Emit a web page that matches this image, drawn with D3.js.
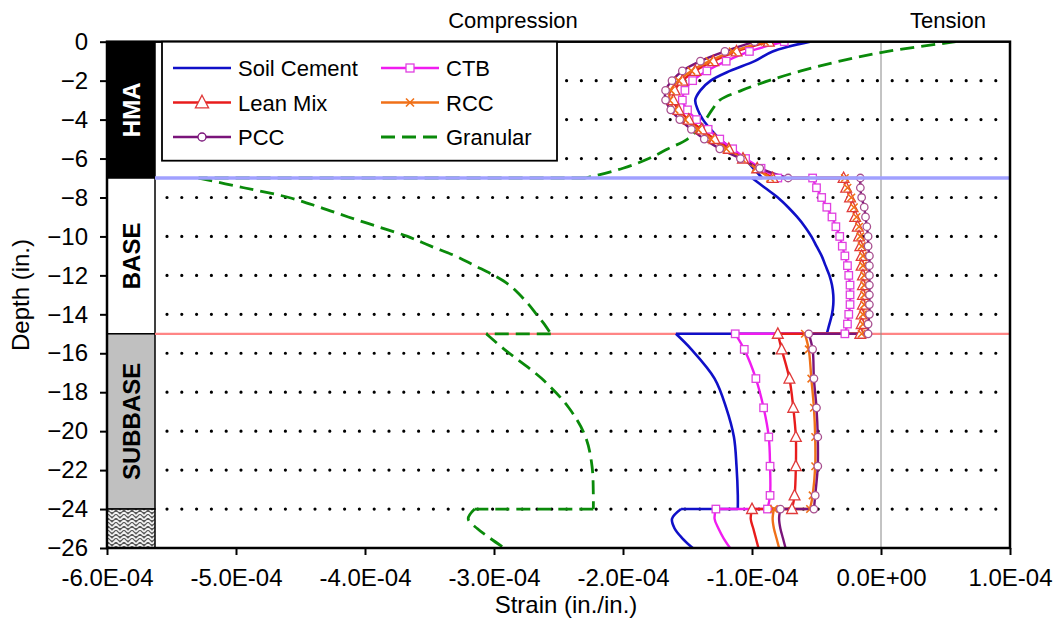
<!DOCTYPE html>
<html>
<head>
<meta charset="utf-8">
<script src="https://cdn.jsdelivr.net/npm/d3@7"></script>
<style>
  body { margin: 0; background: #fff; }
  svg text { font-family: "Liberation Sans", Arial, sans-serif; fill: #000; }
</style>
</head>
<body>
<svg id="chart" width="1055" height="636"></svg>
<script>
// Depth grid (in.), one block per pavement layer; a repeated depth marks a layer interface.
const depthHMA   = [0, -0.5, -1, -1.5, -2, -2.5, -3, -3.5, -4, -4.5, -5, -5.5, -6, -6.5, -7];
const depthBase  = [-7, -7.5, -8, -8.5, -9, -9.5, -10, -10.5, -11, -11.5, -12, -12.5, -13, -13.5, -14, -14.5, -15];
const depthSub   = [-15, -15.8, -17.3, -18.8, -20.3, -21.8, -23.3, -24];
const depthLower = [-24, -24.5, -25, -25.5, -26];
const depths = [...depthHMA, ...depthBase, ...depthSub, ...depthLower];

// Horizontal strain, in units of 1E-04 in./in. (HMA | base | subbase | subgrade)
const soilCement = [
  -0.55, -0.84, -0.98, -1.17, -1.32, -1.40, -1.44, -1.42, -1.38, -1.32, -1.25, -1.16, -1.06, -0.99, -0.92,
  -1.00, -0.90, -0.80, -0.72, -0.65, -0.59, -0.54, -0.50, -0.46, -0.43, -0.40, -0.38, -0.37, -0.37, -0.38, -0.40, -0.42,
  -1.59, -1.47, -1.29, -1.20, -1.14, -1.12, -1.11, -1.11,
  -1.55, -1.62, -1.60, -1.54, -1.46
];
const ctb = [
  -0.75, -1.02, -1.20, -1.35, -1.46, -1.52, -1.54, -1.50, -1.43, -1.34, -1.25, -1.15, -1.05, -0.93, -0.80,
  -0.53, -0.50, -0.46, -0.42, -0.38, -0.35, -0.32, -0.30, -0.28, -0.26, -0.25, -0.24, -0.24, -0.24, -0.25, -0.26, -0.28,
  -1.13, -1.06, -0.97, -0.91, -0.87, -0.86, -0.86, -0.88,
  -1.28, -1.29, -1.26, -1.22, -1.17
];
const leanMix = [
  -0.87, -1.12, -1.30, -1.44, -1.54, -1.60, -1.61, -1.57, -1.49, -1.39, -1.29, -1.18, -1.07, -0.96, -0.84,
  -0.29, -0.27, -0.24, -0.22, -0.20, -0.18, -0.17, -0.16, -0.15, -0.15, -0.14, -0.14, -0.14, -0.14, -0.15, -0.15, -0.16,
  -0.80, -0.77, -0.71, -0.68, -0.66, -0.66, -0.67, -0.69,
  -1.00, -1.01, -0.99, -0.97, -0.95
];
const rcc = [
  -0.90, -1.15, -1.33, -1.47, -1.57, -1.63, -1.64, -1.60, -1.52, -1.42, -1.32, -1.20, -1.08, -0.97, -0.86,
  -0.28, -0.26, -0.23, -0.21, -0.19, -0.17, -0.16, -0.15, -0.14, -0.14, -0.13, -0.13, -0.13, -0.13, -0.14, -0.14, -0.15,
  -0.59, -0.56, -0.54, -0.52, -0.51, -0.51, -0.53, -0.55,
  -0.83, -0.84, -0.83, -0.81, -0.79
];
const pcc = [
  -0.98, -1.21, -1.40, -1.54, -1.62, -1.67, -1.67, -1.63, -1.56, -1.47, -1.37, -1.25, -1.09, -0.94, -0.72,
  -0.16, -0.16, -0.15, -0.13, -0.12, -0.11, -0.10, -0.10, -0.09, -0.09, -0.09, -0.09, -0.09, -0.09, -0.09, -0.10, -0.10,
  -0.56, -0.53, -0.52, -0.50, -0.49, -0.49, -0.51, -0.52,
  -0.78, -0.79, -0.78, -0.76, -0.74
];
const granular = [
  0.58, 0.05, -0.32, -0.62, -0.87, -1.08, -1.25, -1.31, -1.36, -1.42, -1.50, -1.65, -1.80, -2.00, -2.29,
  -5.29, -4.94, -4.59, -4.35, -4.13, -3.90, -3.67, -3.49, -3.30, -3.15, -3.00, -2.88, -2.80, -2.73, -2.67, -2.61, -2.56,
  -3.06, -2.92, -2.63, -2.42, -2.29, -2.24, -2.23, -2.23,
  -3.15, -3.20, -3.13, -3.03, -2.92
];

const seriesNames = ["Soil Cement", "Lean Mix", "PCC", "CTB", "RCC", "Granular"];

// Axis ticks
const xTicks = [-6e-4, -5e-4, -4e-4, -3e-4, -2e-4, -1e-4, 0, 1e-4];
const xTickLabels = ["-6.0E-04", "-5.0E-04", "-4.0E-04", "-3.0E-04", "-2.0E-04", "-1.0E-04", "0.0E+00", "1.0E-04"];
const yTicks = [0, -2, -4, -6, -8, -10, -12, -14, -16, -18, -20, -22, -24, -26];
const gridDepths = [-2, -4, -6, -8, -10, -12, -14, -16, -18, -20, -22, -24];

// Layer column
const layerNames = ["HMA", "BASE", "SUBBASE", ""];
const layerTops = [0, -7, -15, -24];
const layerBottoms = [-7, -15, -24, -26];

const UNIT = 1e-4;

const svg = d3.select("#chart");
const x = d3.scaleLinear().domain([-6e-4, 1e-4]).range([107, 1010]);
const y = d3.scaleLinear().domain([0, -26]).range([41.7, 548]);
const colX0 = x(-6e-4), colX1 = 155;

const defs = svg.append("defs");
defs.append("clipPath").attr("id", "plotClip")
  .append("rect").attr("x", colX1).attr("y", y(0)).attr("width", x(1e-4) - colX1).attr("height", y(-26) - y(0));
const pat = defs.append("pattern").attr("id", "weave")
  .attr("width", 8).attr("height", 8).attr("patternUnits", "userSpaceOnUse");
pat.append("rect").attr("width", 8).attr("height", 8).attr("fill", "#5a5a5a");
pat.append("path").attr("d", "M0,4 L4,0 L8,4 M0,8 L4,4 L8,8")
  .attr("stroke", "#f4f4f4").attr("stroke-width", 1.6).attr("fill", "none");

// Layer column cells
const layerFill = ["#000", "#fff", "#c0c0c0", "url(#weave)"];
const layerText = ["#fff", "#000", "#000", "#000"];
layerNames.forEach((name, i) => {
  svg.append("rect")
    .attr("x", colX0).attr("y", y(layerTops[i]))
    .attr("width", colX1 - colX0).attr("height", y(layerBottoms[i]) - y(layerTops[i]))
    .attr("fill", layerFill[i]).attr("stroke", "#000").attr("stroke-width", 1.5);
  if (name) {
    const cy = (y(layerTops[i]) + y(layerBottoms[i])) / 2;
    svg.append("text")
      .attr("transform", `translate(${(colX0 + colX1) / 2 + 8.5},${cy}) rotate(-90)`)
      .attr("text-anchor", "middle")
      .style("font-size", "24px").style("font-weight", "bold")
      .style("fill", layerText[i])
      .text(name);
  }
});

// Dotted depth gridlines
svg.append("g").selectAll("line").data(gridDepths).join("line")
  .attr("x1", 167).attr("x2", 1000)
  .attr("y1", d => y(d)).attr("y2", d => y(d))
  .attr("stroke", "#000").attr("stroke-width", 3.2)
  .attr("stroke-linecap", "round").attr("stroke-dasharray", "0 14.8");

// Base/subbase interface and zero-strain line (under the curves)
svg.append("line").attr("x1", colX1).attr("x2", x(1e-4)).attr("y1", y(-15)).attr("y2", y(-15))
  .attr("stroke", "#ff8585").attr("stroke-width", 2.2);
svg.append("line").attr("x1", x(0)).attr("x2", x(0)).attr("y1", y(0)).attr("y2", y(-26))
  .attr("stroke", "#888").attr("stroke-width", 1);

// Series
const series = [
  { name: "Granular",    values: granular,   color: "#0a8a0a", width: 2.8, dash: "14 7", marker: null },
  { name: "Soil Cement", values: soilCement, color: "#1010c8", width: 2.6, dash: null, marker: null },
  { name: "CTB",         values: ctb,        color: "#f01cf0", width: 2.4, dash: null, marker: "square", mcolor: "#e040e0" },
  { name: "Lean Mix",    values: leanMix,    color: "#e81c1c", width: 2.4, dash: null, marker: "triangle", mcolor: "#e03a3a" },
  { name: "RCC",         values: rcc,        color: "#f07018", width: 2.4, dash: null, marker: "cross", mcolor: "#f07018" },
  { name: "PCC",         values: pcc,        color: "#7a147a", width: 2.4, dash: null, marker: "circle", mcolor: "#a85090" }
];

const lineGen = d3.line()
  .x(d => x(d[0] * UNIT)).y(d => y(d[1]))
  .curve(d3.curveCatmullRom.alpha(0.5));
const straight = d3.line().x(d => x(d[0] * UNIT)).y(d => y(d[1]));

const plotG = svg.append("g").attr("clip-path", "url(#plotClip)");

function segmentsOf(values) {
  const pts = values.map((v, i) => [v, depths[i]]);
  const segs = [], joins = [];
  let cur = [pts[0]];
  for (let i = 1; i < pts.length; i++) {
    if (pts[i][1] === pts[i - 1][1]) {
      segs.push(cur);
      joins.push([pts[i - 1], pts[i]]);
      cur = [pts[i]];
    } else cur.push(pts[i]);
  }
  segs.push(cur);
  return { pts, segs, joins };
}

function drawMarker(g, type, cx, cy, color, s) {
  if (type === "square") {
    g.append("rect").attr("x", cx - s / 2).attr("y", cy - s / 2).attr("width", s).attr("height", s)
      .attr("fill", "#fff").attr("stroke", color).attr("stroke-width", 1.3);
  } else if (type === "triangle") {
    const h = s * 1.1;
    g.append("path").attr("d", `M${cx},${cy - h * 0.6} L${cx + s * 0.6},${cy + h * 0.45} L${cx - s * 0.6},${cy + h * 0.45} Z`)
      .attr("fill", "#fff").attr("stroke", color).attr("stroke-width", 1.3);
  } else if (type === "circle") {
    g.append("circle").attr("cx", cx).attr("cy", cy).attr("r", s / 2)
      .attr("fill", "#fff").attr("stroke", color).attr("stroke-width", 1.3);
  } else if (type === "cross") {
    const r = s / 2;
    g.append("path").attr("d", `M${cx - r},${cy - r} L${cx + r},${cy + r} M${cx - r},${cy + r} L${cx + r},${cy - r}`)
      .attr("stroke", color).attr("stroke-width", 1.6).attr("fill", "none");
  }
}

series.forEach(s => {
  const { pts, segs, joins } = segmentsOf(s.values);
  const g = plotG.append("g");
  segs.forEach(seg => {
    g.append("path").attr("d", lineGen(seg)).attr("fill", "none")
      .attr("stroke", s.color).attr("stroke-width", s.width)
      .attr("stroke-dasharray", s.dash);
  });
  joins.forEach(j => {
    g.append("path").attr("d", straight(j)).attr("fill", "none")
      .attr("stroke", s.color).attr("stroke-width", s.width)
      .attr("stroke-dasharray", s.dash);
  });
  s.pts = pts;
});

// HMA/base interface drawn over the curves
svg.append("line").attr("x1", colX1).attr("x2", x(1e-4)).attr("y1", y(-7)).attr("y2", y(-7))
  .attr("stroke", "#a0a0ff").attr("stroke-width", 3.6);

// Markers on top of all lines
series.filter(s => s.marker).forEach(s => {
  const g = plotG.append("g");
  s.pts.filter(p => p[1] >= -24).forEach(p => {
    drawMarker(g, s.marker, x(p[0] * UNIT), y(p[1]), s.mcolor, s.marker === "triangle" ? 9 : 7.5);
  });
});

// Axes
const xAxis = d3.axisBottom(x).tickValues(xTicks)
  .tickFormat((d, i) => xTickLabels[i]).tickSize(7).tickPadding(14);
const gx = svg.append("g").attr("transform", `translate(0,${y(-26)})`).call(xAxis);
gx.select(".domain").remove();
gx.selectAll(".tick line").attr("stroke", "#000").attr("stroke-width", 2);
gx.selectAll("text").style("font-size", "24px").style("font-family", "'Liberation Sans', Arial, sans-serif").attr("fill", "#000");

const yAxis = d3.axisLeft(y).tickValues(yTicks).tickFormat(d3.format("d")).tickSize(7).tickPadding(12);
const gy = svg.append("g").attr("transform", `translate(${colX0},0)`).call(yAxis);
gy.select(".domain").remove();
gy.selectAll(".tick line").attr("stroke", "#000").attr("stroke-width", 2);
gy.selectAll("text").style("font-size", "24px").style("font-family", "'Liberation Sans', Arial, sans-serif").attr("fill", "#000");

// Plot frame
svg.append("rect").attr("x", colX0).attr("y", y(0))
  .attr("width", x(1e-4) - colX0).attr("height", y(-26) - y(0))
  .attr("fill", "none").attr("stroke", "#000").attr("stroke-width", 2.5);

// Legend
const legend = svg.append("g");
legend.append("rect").attr("x", 162).attr("y", y(0)).attr("width", 395).attr("height", 119)
  .attr("fill", "#fff").attr("stroke", "#000").attr("stroke-width", 1.8);
const legendItems = [
  { s: "Soil Cement", col: 0, row: 0 },
  { s: "Lean Mix",    col: 0, row: 1 },
  { s: "PCC",         col: 0, row: 2 },
  { s: "CTB",         col: 1, row: 0 },
  { s: "RCC",         col: 1, row: 1 },
  { s: "Granular",    col: 1, row: 2 }
];
const colStart = [173, 381];
const rowY = [68, 102.5, 137];
legendItems.forEach(it => {
  const s = series.find(d => d.name === it.s);
  const x0 = colStart[it.col], ly = rowY[it.row];
  legend.append("line").attr("x1", x0).attr("x2", x0 + 58).attr("y1", ly).attr("y2", ly)
    .attr("stroke", s.color).attr("stroke-width", s.width)
    .attr("stroke-dasharray", s.dash);
  if (s.marker) drawMarker(legend, s.marker, x0 + 29, ly, s.marker === "circle" ? s.color : s.mcolor, s.marker === "triangle" ? 11 : 8);
  legend.append("text").attr("x", x0 + 65).attr("y", ly + 8)
    .style("font-size", "22px").text(it.s);
});

// Titles
svg.append("text").attr("x", 513).attr("y", 28).attr("text-anchor", "middle")
  .style("font-size", "22px").text("Compression");
svg.append("text").attr("x", 948).attr("y", 28).attr("text-anchor", "middle")
  .style("font-size", "22px").text("Tension");
svg.append("text").attr("x", 566).attr("y", 613).attr("text-anchor", "middle")
  .style("font-size", "24px").text("Strain (in./in.)");
svg.append("text").attr("transform", "translate(29,295) rotate(-90)").attr("text-anchor", "middle")
  .style("font-size", "24px").text("Depth (in.)");
</script>
</body>
</html>
